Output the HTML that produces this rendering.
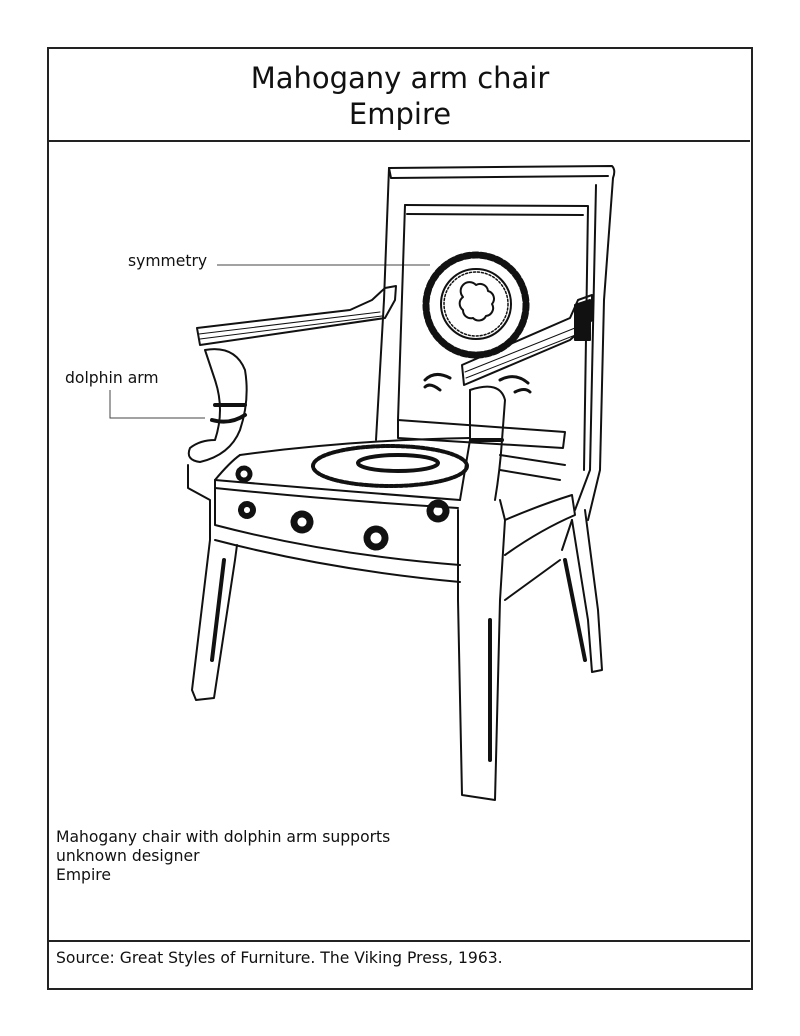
<!DOCTYPE html>
<html><head><meta charset="utf-8"><style>
body{margin:0;background:#fff;width:800px;height:1036px;overflow:hidden;position:relative;font-family:"DejaVu Sans","Liberation Sans",sans-serif;color:#111}
.box{position:absolute;left:47px;top:47px;width:702px;height:939px;border:2px solid #222}
.h1{position:absolute;left:0;width:800px;text-align:center;font-size:29px;line-height:36px}
.t{position:absolute;font-size:15.6px;line-height:19px}
svg{position:absolute;left:0;top:0}
</style></head><body>
<div class="box"></div>
<svg width="800" height="1036">
<line x1="48" y1="141" x2="750" y2="141" stroke="#222" stroke-width="2"/>
<line x1="48" y1="941" x2="750" y2="941" stroke="#222" stroke-width="2"/>
<g stroke="#444" stroke-width="1" fill="none">
<line x1="217" y1="265" x2="430" y2="265"/>
<polyline points="110,390 110,418 205,418"/>
</g>
<g stroke="#111" stroke-width="2" fill="none" stroke-linecap="round" stroke-linejoin="round">
<path d="M389,168 L612,166 Q616,170 613,178 L604,300 L600,470 L588,520"/>
<path d="M389,168 L391,178 L608,176"/>
<path d="M389,168 L384,300 L376,440"/>
<path d="M405,205 L588,206 L584,470"/>
<path d="M407,214 L583,215"/>
<path d="M405,205 L398,420"/>
<path d="M596,185 L590,470 L575,510"/>
<path d="M398,420 L565,432 L563,448 L398,438 Z"/>
<path d="M500,455 L565,465 M500,470 L560,480"/>
<circle cx="476" cy="305" r="50" stroke-width="7" stroke-dasharray="5 3"/>
<circle cx="476" cy="304" r="35" stroke-width="2"/>
<circle cx="476" cy="304" r="32" stroke-width="1.5" stroke-dasharray="2 2"/>
<path d="M476,285 a8,8 0 0 1 12,6 a8,8 0 0 1 4,13 a8,8 0 0 1 -6,12 a8,8 0 0 1 -13,2 a8,8 0 0 1 -10,-8 a8,8 0 0 1 0,-13 a8,8 0 0 1 13,-12z"/>
<path d="M425,380 q10,-10 25,-2 M440,390 q-10,-8 -15,-3" stroke-width="3"/>
<path d="M500,380 q15,-8 28,3 M515,392 q10,-5 15,0" stroke-width="3"/>
<path d="M197,328 L350,310 L372,300 L385,288 L396,286 L395,300 L385,318 L200,345 Z"/>
<path d="M199,334 L380,312 M200,339 L382,316" stroke-width="1"/>
<path d="M205,350 Q235,345 245,370 Q250,400 240,430 Q230,455 200,462 Q185,460 190,448 Q200,440 215,440 Q225,410 215,380 Q210,365 205,350"/>
<path d="M215,405 L245,405 M212,420 Q230,425 245,415" stroke-width="4"/>
<path d="M462,365 L570,318 L578,300 L592,295 L592,320 L570,340 L464,385 Z" />
<path d="M465,372 L575,328 M466,378 L578,334" stroke-width="1"/>
<path d="M575,305 L590,300 L590,340 L575,340 Z" fill="#111"/>
<path d="M470,390 Q500,380 505,400 L502,440 Q500,470 495,500"/>
<path d="M470,390 L470,440 Q465,470 460,500"/>
<path d="M472,440 L502,440" stroke-width="4"/>
<path d="M240,455 Q350,440 470,438"/>
<path d="M215,480 Q230,462 240,455"/>
<path d="M215,480 Q330,490 460,500"/>
<path d="M215,488 Q330,500 458,508"/>
<ellipse cx="390" cy="466" rx="77" ry="20" stroke-width="4" stroke-dasharray="3 2"/>
<ellipse cx="398" cy="463" rx="40" ry="8" stroke-width="4"/>
<path d="M215,480 L215,525 Q330,555 460,565"/>
<path d="M215,540 Q330,570 460,582"/>
<path d="M505,520 Q540,505 572,495 L575,515 Q540,530 505,555"/>
<circle cx="247" cy="510" r="6" stroke-width="6" stroke-dasharray="2 1.5"/>
<circle cx="302" cy="522" r="8" stroke-width="7" stroke-dasharray="2 1.5"/>
<circle cx="376" cy="538" r="9" stroke-width="7" stroke-dasharray="2 1.5"/>
<circle cx="438" cy="511" r="8" stroke-width="7" stroke-dasharray="2 1.5"/>
<circle cx="244" cy="474" r="6" stroke-width="5" stroke-dasharray="2 1.5"/>
<path d="M188,465 L188,488 L210,500 L210,540 L192,690 L196,700 L214,698 L235,560 L237,545"/>
<path d="M224,560 L212,660" stroke-width="4"/>
<path d="M458,510 L458,600 L462,795 L495,800 L500,600 L505,520 L500,500"/>
<path d="M490,620 L490,760" stroke-width="4"/>
<path d="M572,520 L588,620 L592,672 L602,670 L598,610 L585,510"/>
<path d="M562,550 L572,520"/>
<path d="M565,560 L585,660" stroke-width="4"/>
<path d="M505,600 L560,560"/>
</g>
</svg>
<div class="h1" style="top:60px">Mahogany arm chair</div>
<div class="h1" style="top:96px">Empire</div>
<div class="t" style="left:128px;top:252px">symmetry</div>
<div class="t" style="left:65px;top:369px">dolphin arm</div>
<div class="t" style="left:56px;top:828px">Mahogany chair with dolphin arm supports<br>unknown designer<br>Empire</div>
<div class="t" style="left:56px;top:949px">Source: Great Styles of Furniture. The Viking Press, 1963.</div>
</body></html>
